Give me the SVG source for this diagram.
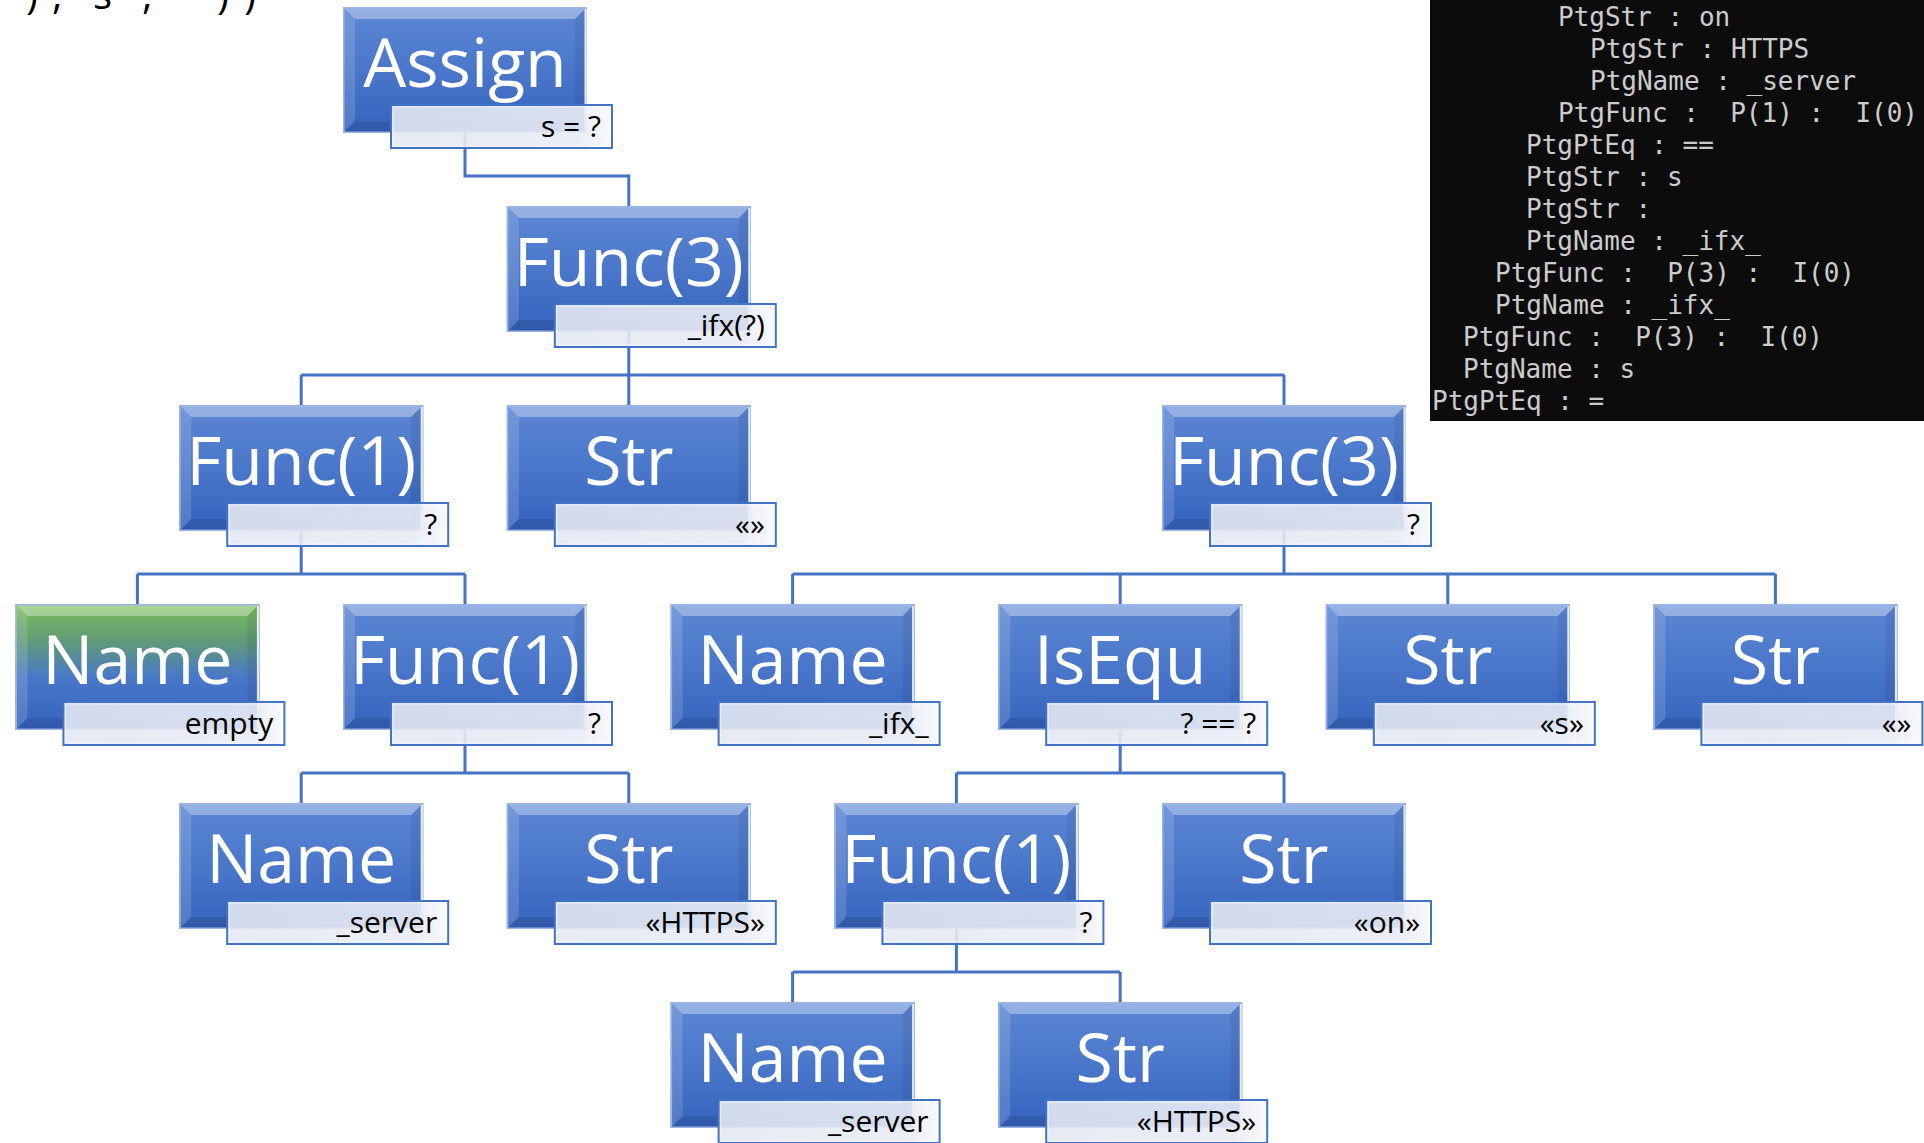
<svg xmlns="http://www.w3.org/2000/svg" xmlns:xlink="http://www.w3.org/1999/xlink" width="1924" height="1143" viewBox="0 0 1924 1143">
<style>
.t{font-family:"Open Sans","Noto Sans","Liberation Sans",sans-serif;font-size:68px;fill:#fff;text-anchor:middle}
.l{font-family:"Open Sans","Noto Sans","Liberation Sans",sans-serif;font-size:30px;fill:#000;text-anchor:end}
.c{fill:none;stroke:#4472C4;stroke-width:3}
.m{font-family:"DejaVu Sans Mono","Liberation Mono",monospace;font-size:26px;fill:#CCCCCC;white-space:pre}
.top{font-family:"Open Sans","Noto Sans","Liberation Sans",sans-serif;font-size:40px;fill:#000}
</style>
<defs>
<linearGradient id="gBlue" x1="0" y1="0" x2="0" y2="1">
<stop offset="0" stop-color="#5D87D4"/>
<stop offset="0.5" stop-color="#4A77CA"/>
<stop offset="1" stop-color="#3563BE"/>
</linearGradient>
<linearGradient id="gGreen" x1="0" y1="0" x2="0" y2="1">
<stop offset="0" stop-color="#7CBF5A"/>
<stop offset="0.3" stop-color="#5F9A78"/>
<stop offset="0.58" stop-color="#4978C9"/>
<stop offset="1" stop-color="#3563BE"/>
</linearGradient>
<linearGradient id="gLbl" x1="0" y1="0" x2="1" y2="0">
<stop offset="0" stop-color="#E3E8F3"/>
<stop offset="0.85" stop-color="#E8ECF5"/>
<stop offset="1" stop-color="#F8F9FC"/>
</linearGradient>
<g id="bevel">
<polygon points="0,0 244,0 232,12 12,12" fill="#fff" opacity="0.35"/>
<polygon points="0,0 12,12 12,114 0,126" fill="#fff" opacity="0.14"/>
<polygon points="244,0 244,126 232,114 232,12" fill="#000" opacity="0.07"/>
<polygon points="0,126 12,114 232,114 244,126" fill="#000" opacity="0.1"/>
<rect x="0.75" y="0.75" width="242.5" height="124.5" fill="none" stroke="#9DB5E3" stroke-width="1.5"/>
<line x1="242.5" y1="2" x2="242.5" y2="124" stroke="#E4EEFB" stroke-width="2"/>
</g>
<g id="boxBlue">
<rect width="244" height="126" fill="url(#gBlue)"/>
<use xlink:href="#bevel"/>
</g>
<g id="boxGreen">
<rect width="244" height="126" fill="url(#gGreen)"/>
<use xlink:href="#bevel"/>
</g>
<g id="lbl">
<rect x="1" y="1" width="221" height="43" fill="url(#gLbl)" fill-opacity="0.9" stroke="#4472C4" stroke-width="2"/>
<rect x="3" y="3" width="217" height="39" fill="none" stroke="#fff" stroke-opacity="0.6" stroke-width="1"/>
</g>
</defs>

<rect width="1924" height="1143" fill="#fff"/>

<g id="topText">
<text class="top" y="9" x="26 52 62 78 93 113 142 152 168 186 217 244">), "s", ""))</text>
</g>

<g id="terminal">
<rect x="1430" y="0" width="494" height="421" fill="#0C0C0C"/>
<text class="m" x="1558" y="26">PtgStr : on</text>
<text class="m" x="1590" y="58">PtgStr : HTTPS</text>
<text class="m" x="1590" y="90">PtgName : _server</text>
<text class="m" x="1558" y="122">PtgFunc :  P(1) :  I(0)</text>
<text class="m" x="1526" y="154">PtgPtEq : ==</text>
<text class="m" x="1526" y="186">PtgStr : s</text>
<text class="m" x="1526" y="218">PtgStr :</text>
<text class="m" x="1526" y="250">PtgName : _ifx_</text>
<text class="m" x="1495" y="282">PtgFunc :  P(3) :  I(0)</text>
<text class="m" x="1495" y="314">PtgName : _ifx_</text>
<text class="m" x="1463" y="346">PtgFunc :  P(3) :  I(0)</text>
<text class="m" x="1463" y="378">PtgName : s</text>
<text class="m" x="1432" y="410">PtgPtEq : =</text>
</g>

<g id="connectors">
<path class="c" d="M465,133 V176 H628.8 V206"/>
<path class="c" d="M628.8,332 V375 M301.2,375 H1284 M301.2,375 V405 M628.8,375 V405 M1284,375 V405"/>
<path class="c" d="M301.2,531 V574 M137.4,574 H465 M137.4,574 V604 M465,574 V604"/>
<path class="c" d="M1284,531 V574 M792.6,574 H1775.4 M792.6,574 V604 M1120.2,574 V604 M1447.8,574 V604 M1775.4,574 V604"/>
<path class="c" d="M465,730 V773 M301.2,773 H628.8 M301.2,773 V803 M628.8,773 V803"/>
<path class="c" d="M1120.2,730 V773 M956.4,773 H1284 M956.4,773 V803 M1284,773 V803"/>
<path class="c" d="M956.4,929 V972 M792.6,972 H1120.2 M792.6,972 V1002 M1120.2,972 V1002"/>
</g>

<g id="n1"><use xlink:href="#boxBlue" x="343" y="7"/><text class="t" x="465" y="87">Assign</text><use xlink:href="#lbl" x="390" y="104"/><text class="l" x="601" y="137">s = ?</text></g>
<g id="n2"><use xlink:href="#boxBlue" x="506.8" y="206"/><text class="t" x="628.8" y="286">Func(3)</text><use xlink:href="#lbl" x="553.8" y="303"/><text class="l" x="764.8" y="336">_ifx(?)</text></g>
<g id="n3"><use xlink:href="#boxBlue" x="179.2" y="405"/><text class="t" x="301.2" y="485">Func(1)</text><use xlink:href="#lbl" x="226.2" y="502"/><text class="l" x="437.2" y="535">?</text></g>
<g id="n4"><use xlink:href="#boxBlue" x="506.8" y="405"/><text class="t" x="628.8" y="485">Str</text><use xlink:href="#lbl" x="553.8" y="502"/><text class="l" x="764.8" y="535">«»</text></g>
<g id="n5"><use xlink:href="#boxBlue" x="1162" y="405"/><text class="t" x="1284" y="485">Func(3)</text><use xlink:href="#lbl" x="1209" y="502"/><text class="l" x="1420" y="535">?</text></g>
<g id="n6"><use xlink:href="#boxGreen" x="15.4" y="604"/><text class="t" x="137.4" y="684">Name</text><use xlink:href="#lbl" x="62.4" y="701"/><text class="l" x="273.4" y="734">empty</text></g>
<g id="n7"><use xlink:href="#boxBlue" x="343" y="604"/><text class="t" x="465" y="684">Func(1)</text><use xlink:href="#lbl" x="390" y="701"/><text class="l" x="601" y="734">?</text></g>
<g id="n8"><use xlink:href="#boxBlue" x="670.6" y="604"/><text class="t" x="792.6" y="684">Name</text><use xlink:href="#lbl" x="717.6" y="701"/><text class="l" x="928.6" y="734">_ifx_</text></g>
<g id="n9"><use xlink:href="#boxBlue" x="998.2" y="604"/><text class="t" x="1120.2" y="684">IsEqu</text><use xlink:href="#lbl" x="1045.2" y="701"/><text class="l" x="1256.2" y="734">? == ?</text></g>
<g id="n10"><use xlink:href="#boxBlue" x="1325.8" y="604"/><text class="t" x="1447.8" y="684">Str</text><use xlink:href="#lbl" x="1372.8" y="701"/><text class="l" x="1583.8" y="734">«s»</text></g>
<g id="n11"><use xlink:href="#boxBlue" x="1653.4" y="604"/><text class="t" x="1775.4" y="684">Str</text><use xlink:href="#lbl" x="1700.4" y="701"/><text class="l" x="1911.4" y="734">«»</text></g>
<g id="n12"><use xlink:href="#boxBlue" x="179.2" y="803"/><text class="t" x="301.2" y="883">Name</text><use xlink:href="#lbl" x="226.2" y="900"/><text class="l" x="437.2" y="933">_server</text></g>
<g id="n13"><use xlink:href="#boxBlue" x="506.8" y="803"/><text class="t" x="628.8" y="883">Str</text><use xlink:href="#lbl" x="553.8" y="900"/><text class="l" x="764.8" y="933">«HTTPS»</text></g>
<g id="n14"><use xlink:href="#boxBlue" x="834.4" y="803"/><text class="t" x="956.4" y="883">Func(1)</text><use xlink:href="#lbl" x="881.4" y="900"/><text class="l" x="1092.4" y="933">?</text></g>
<g id="n15"><use xlink:href="#boxBlue" x="1162" y="803"/><text class="t" x="1284" y="883">Str</text><use xlink:href="#lbl" x="1209" y="900"/><text class="l" x="1420" y="933">«on»</text></g>
<g id="n16"><use xlink:href="#boxBlue" x="670.6" y="1002"/><text class="t" x="792.6" y="1082">Name</text><use xlink:href="#lbl" x="717.6" y="1099"/><text class="l" x="928.6" y="1132">_server</text></g>
<g id="n17"><use xlink:href="#boxBlue" x="998.2" y="1002"/><text class="t" x="1120.2" y="1082">Str</text><use xlink:href="#lbl" x="1045.2" y="1099"/><text class="l" x="1256.2" y="1132">«HTTPS»</text></g>
</svg>
